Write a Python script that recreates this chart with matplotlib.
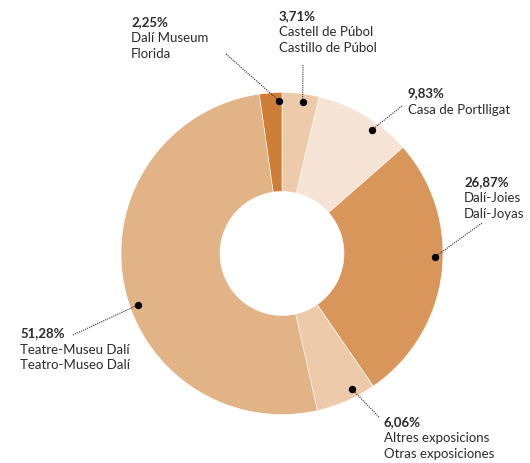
import numpy as np
import matplotlib
matplotlib.use('Agg')
import matplotlib.pyplot as plt

# Visitors share by museum (clockwise from top)
pcts = [3.71, 9.83, 26.87, 6.06, 51.28, 2.25]
pct_labels = ['3,71%', '9,83%', '26,87%', '6,06%', '51,28%', '2,25%']
names = [
    ['Castell de Púbol', 'Castillo de Púbol'],
    ['Casa de Portlligat'],
    ['Dalí-Joies', 'Dalí-Joyas'],
    ['Altres exposicions', 'Otras exposiciones'],
    ['Teatre-Museu Dalí', 'Teatro-Museo Dalí'],
    ['Dalí Museum', 'Florida'],
]
colors = ['#EDCBAA', '#F5E3D5', '#D9965B', '#EDCBAA', '#E2B387', '#CF7E38']

# layout (pixel coords, y from top)
W, H = 530, 463
cx, cy, R = 282, 253.5, 161
hole = 62
text_pos = [(279, 16), (408, 93), (464, 182), (384, 422), (20, 333), (131, 22)]
leader_start = [(303, 65), (402, 106), (482, 223), (379, 417), (73, 335), (226, 54)]
dot_frac = [0.58, 0.64, 0.44, 0.33, 0.45, 0.85]

plt.rcParams['font.family'] = ['Lato', 'DejaVu Sans']
fig = plt.figure(figsize=(W / 100, H / 100), dpi=100)
ax = fig.add_axes([0, 0, 1, 1])

ax.pie(pcts, colors=colors, startangle=90, counterclock=False,
       center=(cx, H - cy), radius=R, frame=True,
       wedgeprops=dict(width=R - hole, edgecolor='white', linewidth=0.4))
ax.set_xlim(0, W)
ax.set_ylim(0, H)
ax.set_aspect('equal')
ax.axis('off')

total = sum(pcts)
cum = np.cumsum([0] + pcts)
txt_color = '#2b2b2b'
for i in range(len(pcts)):
    a0 = cum[i] / total * 360
    a1 = cum[i + 1] / total * 360
    a = np.deg2rad(a0 + dot_frac[i] * (a1 - a0))
    r = R * 0.95
    dx, dy = cx + r * np.sin(a), cy - r * np.cos(a)
    sx, sy = leader_start[i]
    ax.plot([sx, dx], [H - sy, H - dy], color=txt_color, lw=0.8,
            linestyle=(0, (1, 1)))
    ax.plot(dx, H - dy, 'o', color='black', ms=4.3)
    tx, ty = text_pos[i]
    ax.text(tx, H - ty, pct_labels[i], fontsize=9.5, fontweight='bold',
            color=txt_color, va='center', ha='left')
    for j, line in enumerate(names[i]):
        ax.text(tx, H - (ty + 16.5 + j * 15.5), line, fontsize=9.5,
                color=txt_color, va='center', ha='left')

fig.savefig('out.png', dpi=100)
